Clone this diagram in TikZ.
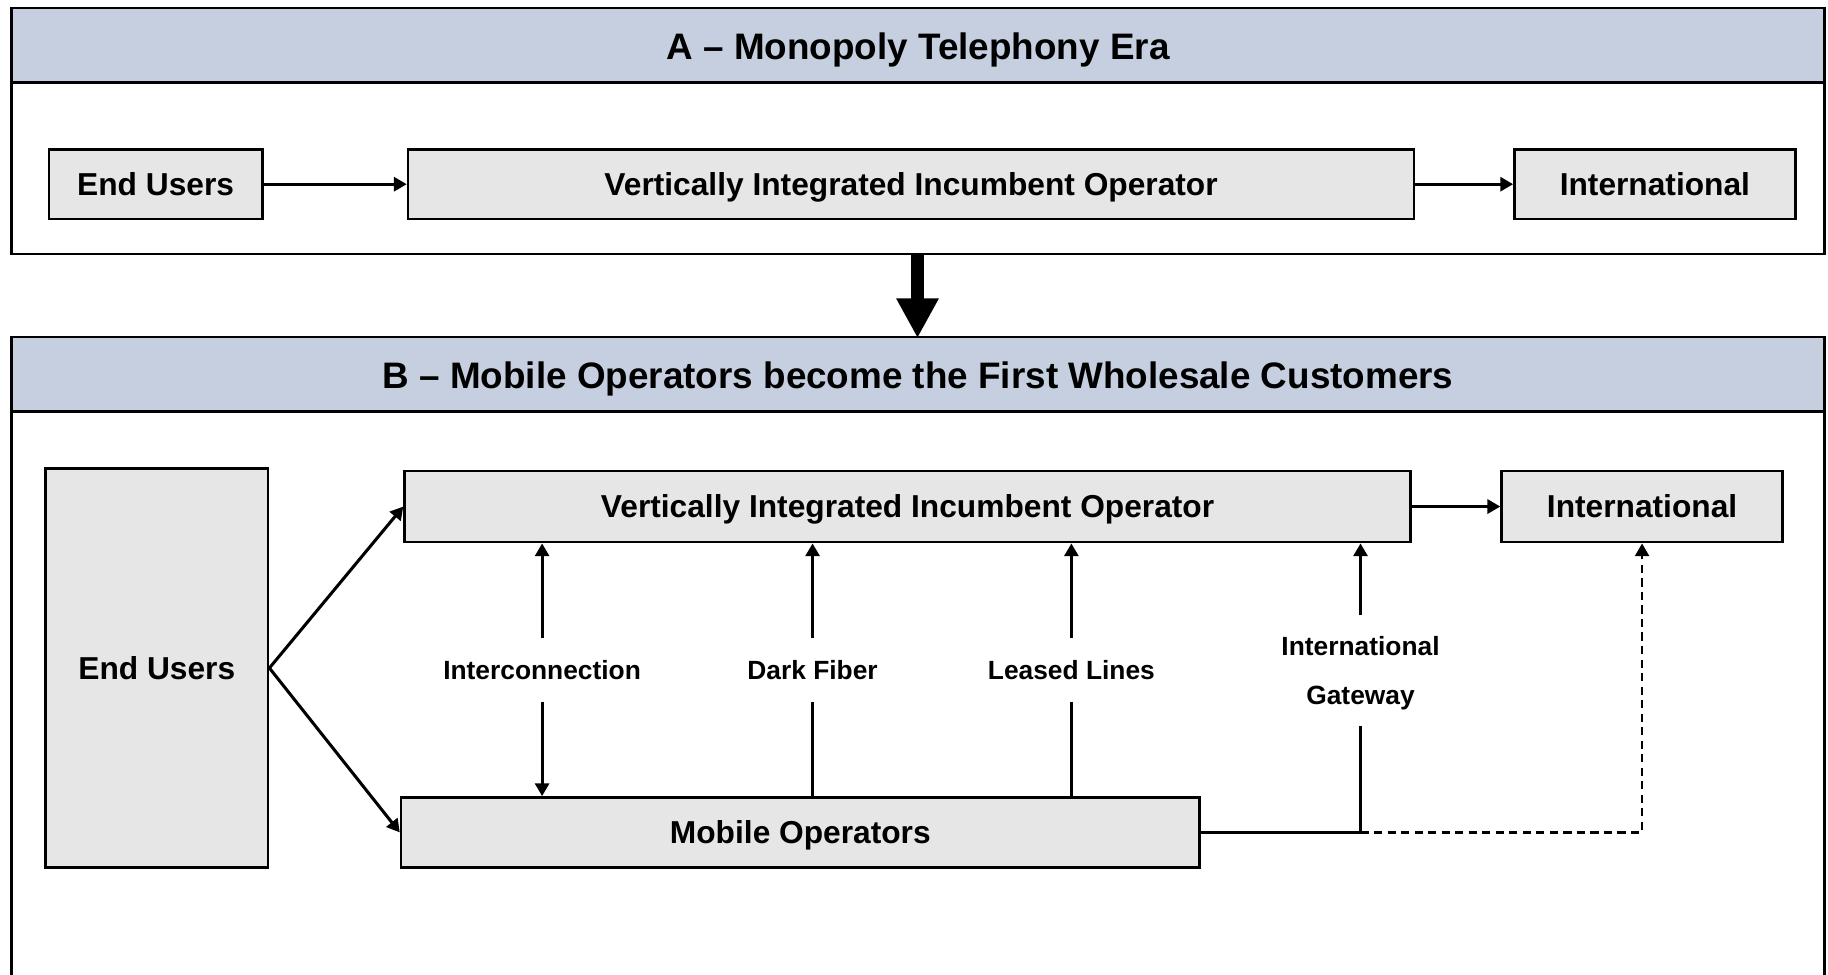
\documentclass[tikz,border=0pt]{standalone}
\usepackage{fontspec}
\setmainfont{Liberation Sans}
\usetikzlibrary{arrows.meta}
\definecolor{hdr}{HTML}{C5CFE0}
\definecolor{boxfill}{HTML}{E6E6E6}
\tikzset{
  panel/.style={draw=black, line width=1.1pt},
  hdrfill/.style={fill=hdr, draw=black, line width=1.1pt},
  titletext/.style={font=\fontsize{15.8}{19}\selectfont\bfseries, text height=11.3pt, text depth=0pt},
  entity/.style={draw=black, fill=boxfill, line width=1.1pt, font=\fontsize{13.6}{16}\selectfont\bfseries, inner sep=0pt, minimum height=30pt, text height=9.75pt, text depth=0pt},
  lbl/.style={font=\fontsize{11.3}{21}\selectfont\bfseries, inner sep=0pt, align=center},
  lblone/.style={lbl, text height=8.1pt, text depth=0pt},
  conn/.style={line width=1.3pt, -{Triangle[length=5.5pt,width=6pt]}},
  plain/.style={line width=1.3pt},
}
\begin{document}
\begin{tikzpicture}[x=0.5pt,y=-0.5pt]
\useasboundingbox (0,0) rectangle (1568,836);
\clip (0,0) rectangle (1568,836);
% Panel A
\fill[white] (0,0) rectangle (1568,836);
\draw[hdrfill] (10,7) rectangle (1565,71);
\draw[panel] (10,7) rectangle (1565,218);
\node[titletext] (titleA) at (787.5,40) {A – Monopoly Telephony Era};
\node[entity, minimum width=91.5pt] (euA) at (133.5,158) {End Users};
\node[entity, minimum width=431.5pt] (viA) at (781.5,158) {Vertically Integrated Incumbent Operator};
\node[entity, minimum width=120.5pt] (intA) at (1419.5,158) {International};
\draw[conn] (euA) -- (viA);
\draw[conn] (viA) -- (intA);
% Panel B
\draw[hdrfill] (10,289) rectangle (1565,353);
\draw[panel] (10,850) -- (10,289) -- (1565,289) -- (1565,850);
\node[titletext] (titleB) at (787.5,322) {B – Mobile Operators become the First Wholesale Customers};
% Transition arrow
\coordinate (aBot) at (787,218);
\coordinate (bTop) at (787,290);
\draw[line width=5.25pt, -{Triangle[length=17pt,width=17pt]}] (aBot) -- (bTop);
% Entities B
\node[entity, minimum width=95.5pt, minimum height=171pt] (euB) at (134.5,573) {End Users};
\node[entity, minimum width=431.5pt, minimum height=30.5pt] (viB) at (778.5,434.5) {Vertically Integrated Incumbent Operator};
\node[entity, minimum width=120.5pt, minimum height=30.5pt] (intB) at (1408.5,434.5) {International};
\node[entity, minimum width=342.5pt] (mo) at (686.5,714) {Mobile Operators};
\draw[conn] (euB.east) -- (viB.west);
\draw[conn] (euB.east) -- (mo.west);
\draw[conn] (viB) -- (intB);
% Labels
\node[lblone, minimum height=27pt] (ic) at (465,574.5) {Interconnection};
\node[lblone, minimum height=27pt] (df) at (697,574.5) {Dark Fiber};
\node[lblone, minimum height=27pt] (ll) at (919,574.5) {Leased Lines};
\node[lbl, minimum height=47.25pt, text depth=0pt] (gw) at (1167,575) {International\\Gateway};
% Vertical links
\draw[conn] (ic.north) -- (viB.south -| ic);
\draw[conn] (ic.south) -- (mo.north -| ic);
\draw[plain] (mo.north -| df) -- (df.south);
\draw[conn] (df.north) -- (viB.south -| df);
\draw[plain] (mo.north -| ll) -- (ll.south);
\draw[conn] (ll.north) -- (viB.south -| ll);
\coordinate (gwc) at (mo.east -| gw);
\draw[plain] (mo.east) -- (gwc) -- (gw.south);
\draw[conn] (gw.north) -- (viB.south -| gw);
\draw[conn, line width=1.1pt, dash pattern=on 3.5pt off 2.3pt] (gwc) -- (gwc -| intB) -- (intB.south);
\end{tikzpicture}
\end{document}
